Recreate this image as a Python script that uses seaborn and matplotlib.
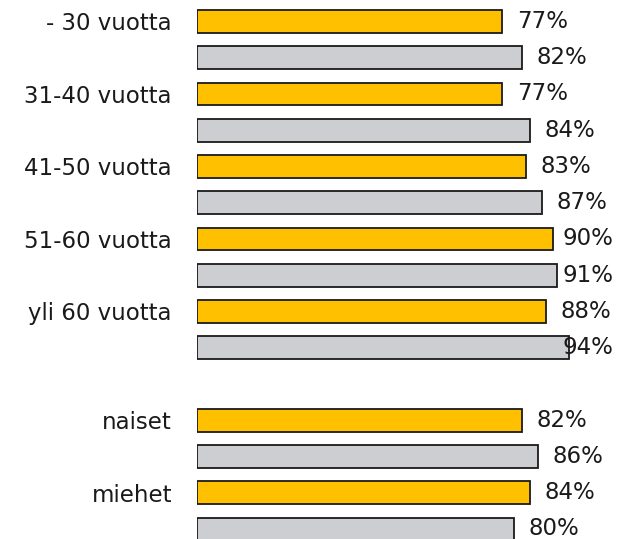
import matplotlib
matplotlib.use("Agg")
import matplotlib.pyplot as plt
import seaborn as sns
import pandas as pd
import numpy as np

# Data
groups = ["- 30 vuotta", "31-40 vuotta", "41-50 vuotta", "51-60 vuotta",
          "yli 60 vuotta", "naiset", "miehet"]
yellow_vals = [77, 77, 83, 90, 88, 82, 84]
gray_vals = [82, 84, 87, 91, 94, 86, 80]

# Build slots: each group gives a yellow row and a gray row,
# with an empty slot between age groups and gender groups
rows = []
order = []
for i, g in enumerate(groups):
    if i == 5:
        order.append("__gap__")
    rows.append({"slot": g + "|a", "value": yellow_vals[i], "series": "a"})
    rows.append({"slot": g + "|b", "value": gray_vals[i], "series": "b"})
    order += [g + "|a", g + "|b"]
df = pd.DataFrame(rows)

sns.set_theme(style="white")
plt.rcParams["font.family"] = ["DejaVu Sans"]

fig = plt.figure(figsize=(6.2, 5.39), dpi=100)
ax = fig.add_axes([197 / 620, 0, 423 / 620, 1])

sns.barplot(data=df, x="value", y="slot", hue="series", order=order,
            palette={"a": "#FFC000", "b": "#CDCED2"}, dodge=False, saturation=1,
            width=0.63, edgecolor="#1a1a1a", linewidth=1.3, legend=False, ax=ax)

ax.set_xlim(0, 106.8)
ax.set_ylim(14.276, -0.593)

# tick labels only on the yellow rows
labels = [s.split("|")[0] if s.endswith("|a") else "" for s in order]
ax.set_yticks(range(len(order)))
ax.set_yticklabels(labels, fontsize=16.5, color="#1a1a1a")
ax.tick_params(axis="y", length=0, pad=18)
ax.set_xticks([])
ax.set_xlabel("")
ax.set_ylabel("")
for sp in ax.spines.values():
    sp.set_visible(False)

# value labels
for _, r in df.iterrows():
    pos = order.index(r["slot"])
    x = min(r["value"] + 3.8, 92.2)
    ax.text(x, pos, f"{r['value']}%", va="center", ha="left",
            fontsize=16.5, color="#1a1a1a")

fig.savefig("out.png", dpi=100)
